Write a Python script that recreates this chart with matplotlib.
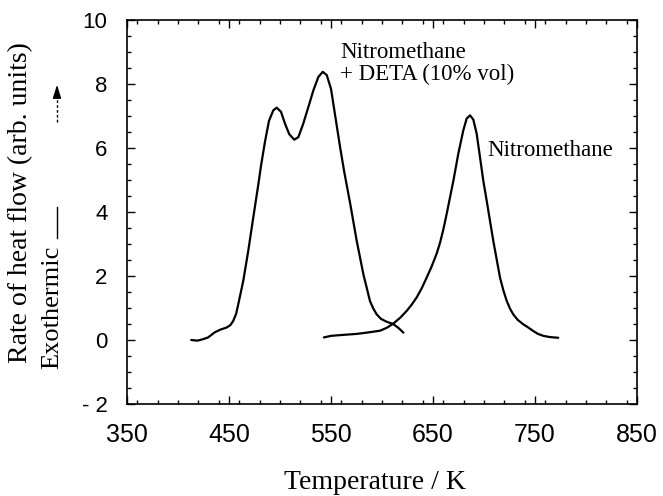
import matplotlib
matplotlib.use("Agg")
import matplotlib.pyplot as plt
from matplotlib.ticker import MultipleLocator

# Data
deta_T = [413, 419, 424, 429.5, 436, 442, 447.7, 451.5, 454.2, 457, 459.1, 464, 468.9,
          473.8, 478.7, 481.4, 485.3, 489.2, 493.5, 496.8, 501, 504.9, 509.1, 514,
          518, 522.8, 527.8, 532.7, 537.6, 541.9, 545.8, 550, 553.9, 558.8, 563,
          568.6, 575.2, 581.7, 588.2, 591.5, 594.8, 599, 604.6, 611, 616, 621]
deta_v = [0.0, -0.02, 0.02, 0.08, 0.24, 0.33, 0.39, 0.47, 0.6, 0.82, 1.12, 1.85, 2.79,
          3.83, 4.85, 5.45, 6.2, 6.85, 7.18, 7.26, 7.13, 6.76, 6.43, 6.26,
          6.34, 6.76, 7.28, 7.8, 8.22, 8.38, 8.28, 7.85, 7.05, 6.05, 5.25,
          4.3, 3.1, 2.06, 1.22, 0.98, 0.8, 0.66, 0.57, 0.5, 0.38, 0.23]

nm_T = [543, 550, 562, 575, 585, 598, 604.6, 611, 618, 624.2, 629, 634, 639, 643.8,
        648.7, 653.6, 657, 660.1, 663.4, 666.7, 670, 674.8, 679.7, 683, 686.3,
        689.5, 692.8, 696.1, 699.3, 702.6, 709.1, 715.7, 719, 722.3, 725.5, 728.7,
        733, 738.5, 743, 748.3, 753, 758.1, 765, 772.8]
nm_v = [0.08, 0.13, 0.16, 0.19, 0.23, 0.29, 0.38, 0.51, 0.7, 0.91, 1.1, 1.33, 1.62, 1.95,
        2.3, 2.7, 3.05, 3.45, 3.94, 4.46, 4.98, 5.82, 6.55, 6.92, 7.02,
        6.89, 6.45, 5.71, 4.98, 4.36, 3.1, 1.95, 1.55, 1.22, 0.98, 0.8,
        0.63, 0.49, 0.4, 0.28, 0.19, 0.13, 0.09, 0.07]

x_ticks = [350, 450, 550, 650, 750, 850]
y_ticks = [-2, 0, 2, 4, 6, 8, 10]
y_tick_labels = ["- 2", "0", "2", "4", "6", "8", "10"]

label_deta_1 = "Nitromethane"
label_deta_2 = "+ DETA (10% vol)"
label_nm = "Nitromethane"

serif = ["Liberation Serif", "DejaVu Serif"]
sans = ["Liberation Sans", "DejaVu Sans"]

W, H = 663, 496
fig = plt.figure(figsize=(W / 100, H / 100), dpi=100)
ax = fig.add_axes([127 / W, (H - 404) / H, (637 - 127) / W, (404 - 20) / H])

ax.plot(deta_T, deta_v, color="black", lw=1.6, solid_joinstyle="round", solid_capstyle="round")
ax.plot(nm_T, nm_v, color="black", lw=1.6, solid_joinstyle="round", solid_capstyle="round")

ax.set_xlim(350, 850)
ax.set_ylim(-2, 10)
ax.set_xticks(x_ticks)
ax.set_xticklabels([str(t) for t in x_ticks], family=sans, fontsize=18)
ax.set_yticks(y_ticks)
ax.set_yticklabels(y_tick_labels, family=sans, fontsize=16)
ax.xaxis.set_minor_locator(MultipleLocator(20))
ax.yaxis.set_minor_locator(MultipleLocator(0.5))
ax.tick_params(which="both", direction="in", top=True, right=True, color="black", width=1.0)
ax.tick_params(axis="x", which="major", length=6, pad=14)
ax.tick_params(axis="y", which="major", length=6, pad=14)
ax.tick_params(which="minor", length=3)
for s in ax.spines.values():
    s.set_linewidth(1.2)

ax.text(558.8, 8.81, label_deta_1, family=serif, fontsize=16.5, va="baseline", ha="left")
ax.text(558.8, 8.12, label_deta_2, family=serif, fontsize=16.5, va="baseline", ha="left")
ax.text(702.9, 5.74, label_nm, family=serif, fontsize=16.5, va="baseline", ha="left")

# Axis labels
fig.text(375 / W, (H - 489) / H, "Temperature / K", family=serif, fontsize=20,
         ha="center", va="baseline")
fig.text(21 / W, (H - 203) / H, "Rate of heat flow (arb. units)", family=serif,
         fontsize=20, rotation=90, ha="center", va="center")
fig.text(52 / W, (H - 307) / H, "Exothermic", family=serif, fontsize=19,
         rotation=90, ha="center", va="center")
# Exothermic indicator: solid line then dashed arrow upward
fig.add_artist(plt.Line2D([57 / W, 57 / W], [(H - 238) / H, (H - 207) / H],
                          color="black", lw=1.0))
fig.add_artist(plt.Line2D([57 / W, 57 / W], [(H - 122) / H, (H - 92) / H],
                          color="black", lw=1.0, ls=(0, (2, 1.5))))
ax.annotate("", xy=(57 / W, (H - 82) / H), xytext=(57 / W, (H - 95) / H),
            xycoords="figure fraction", textcoords="figure fraction",
            arrowprops=dict(arrowstyle="-|>,head_length=0.8,head_width=0.25",
                            color="black", lw=1.0))

fig.savefig("out.png", dpi=100)
